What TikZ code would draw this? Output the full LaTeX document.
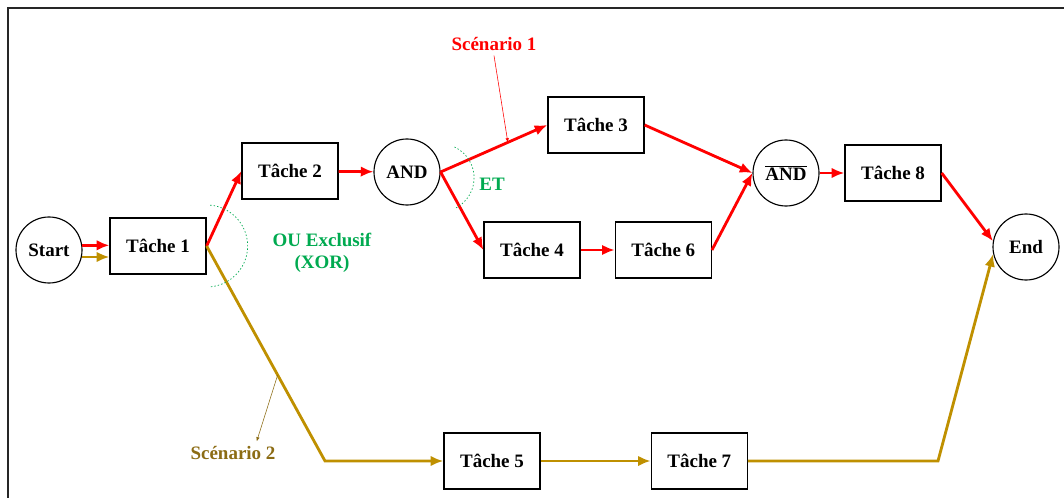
\documentclass[tikz,border=0pt]{standalone}
\usepackage{fontspec}
\setmainfont{Liberation Serif}
\usepackage{xcolor}
\usepackage{tikz}
\usetikzlibrary{arrows.meta,positioning,calc}
\definecolor{scenred}{RGB}{255,0,0}
\definecolor{scengold}{RGB}{191,144,0}
\definecolor{scentext}{RGB}{140,108,20}
\definecolor{opgreen}{RGB}{0,170,80}

\begin{document}
\begin{tikzpicture}
	[x=0.025cm, y=-0.025cm, auto, font=\fontsize{13.5}{16}\selectfont\bfseries,
	% STYLES
	% The task style is used to draw the boxes of the tasks
	task/.style={rectangle, draw, line width=0.9pt, minimum width=2.4cm, minimum height=1.4cm, text centered},
	% The gate style is used for start, end and the operators
	gate/.style={circle, draw, line width=0.8pt, minimum size=1.65cm, inner sep=0pt},
	% The flow styles are used for the two scenarios
	flowred/.style={draw=scenred, line width=2pt, -{Latex[length=9pt,width=7.5pt]}},
	flowgold/.style={draw=scengold, line width=2pt, -{Latex[length=9pt,width=7.5pt]}},
	% The arc style marks the split of the flows
	split/.style={draw=opgreen, line width=0.5pt, dash pattern=on 1pt off 1.5pt}]

	\useasboundingbox (0,0) rectangle (1064,498);
	% frame
	\draw[line width=1.4pt, black!85] (8,498) -- (8,8) -- (1064,8);

	% nodes of the upper part
	\node [gate] (Start) at (49,250) {Start};
	\node [task] (Tache1) at (158,246) {Tâche 1};
	\node [task] (Tache2) at (290,171) {Tâche 2};
	\node [gate] (And) at (407,172) {AND};
	\node [task] (Tache3) at (596,125) {Tâche 3};
	\node [task] (Tache4) at (532,250) {Tâche 4};
	\node [task, right = 0.85cm of Tache4] (Tache6) {Tâche 6};
	\node [gate] (NotAnd) at (786,173) {$\overline{\hbox{\bfseries AND}}$};
	\node [task, right = 0.62cm of NotAnd] (Tache8) {Tâche 8};
	\node [gate] (End) at (1026,247) {End};
	% nodes of the lower part
	\node [task] (Tache5) at (492,461) {Tâche 5};
	\node [task, right = 2.75cm of Tache5] (Tache7) {Tâche 7};
	\coordinate (g1) at (325,461);
	\coordinate (g2) at (938,461);

	% labels
	\node [text=scenred] (Scen1) at (494,44) {Scénario 1};
	\node [text=scentext] (Scen2) at (233,453) {Scénario 2};
	\node [text=opgreen, align=center] (Xor) at (322,253) {OU Exclusif\\(XOR)};
	\node [text=opgreen] (Et) at (492,184) {ET};

	% Scenario 1
	\path[every edge/.style={flowred}]
	(Start.8) edge (Start.8 -| Tache1.west)
	(Tache1.east) edge (Tache2.west)
	(Tache2) edge (And)
	(And.east) edge (Tache3.west)
	(And.east) edge (Tache4.west)
	(Tache4) edge (Tache6)
	(Tache3.east) edge (NotAnd.west)
	(Tache6.east) edge (NotAnd.west)
	(NotAnd) edge (Tache8)
	(Tache8.east) edge (End.170);
	% Scenario 2
	\draw[flowgold] (Start.-12) -- (Start.-12 -| Tache1.west);
	\draw[flowgold] (Tache1.east) -- (g1) -- (Tache5.west);
	\draw[flowgold] (Tache5) -- (Tache7);
	\draw[flowgold] (Tache7.east) -- (g2) -- (End.192);

	% arcs of the operators
	\draw[split] (Tache1.east) ++(-85:41) arc[start angle=-85, end angle=85, radius=41];
	\draw[split] (And.-10) ++(-65:34) arc[start angle=-65, end angle=65, radius=34];

	% pointers to the scenarios
	\draw[scenred, line width=0.4pt, -{Latex[length=3pt,width=2.5pt]}] (Scen1.south) -- ($(And.east)!0.63!(Tache3.west)$);
	\draw[scentext, line width=0.4pt, -{Latex[length=3pt,width=2.5pt]}] ($(Tache1.east)!0.6!(g1)$) -- ($(Scen2.north)!0.5!(Scen2.north east)$);

\end{tikzpicture}
\end{document}
